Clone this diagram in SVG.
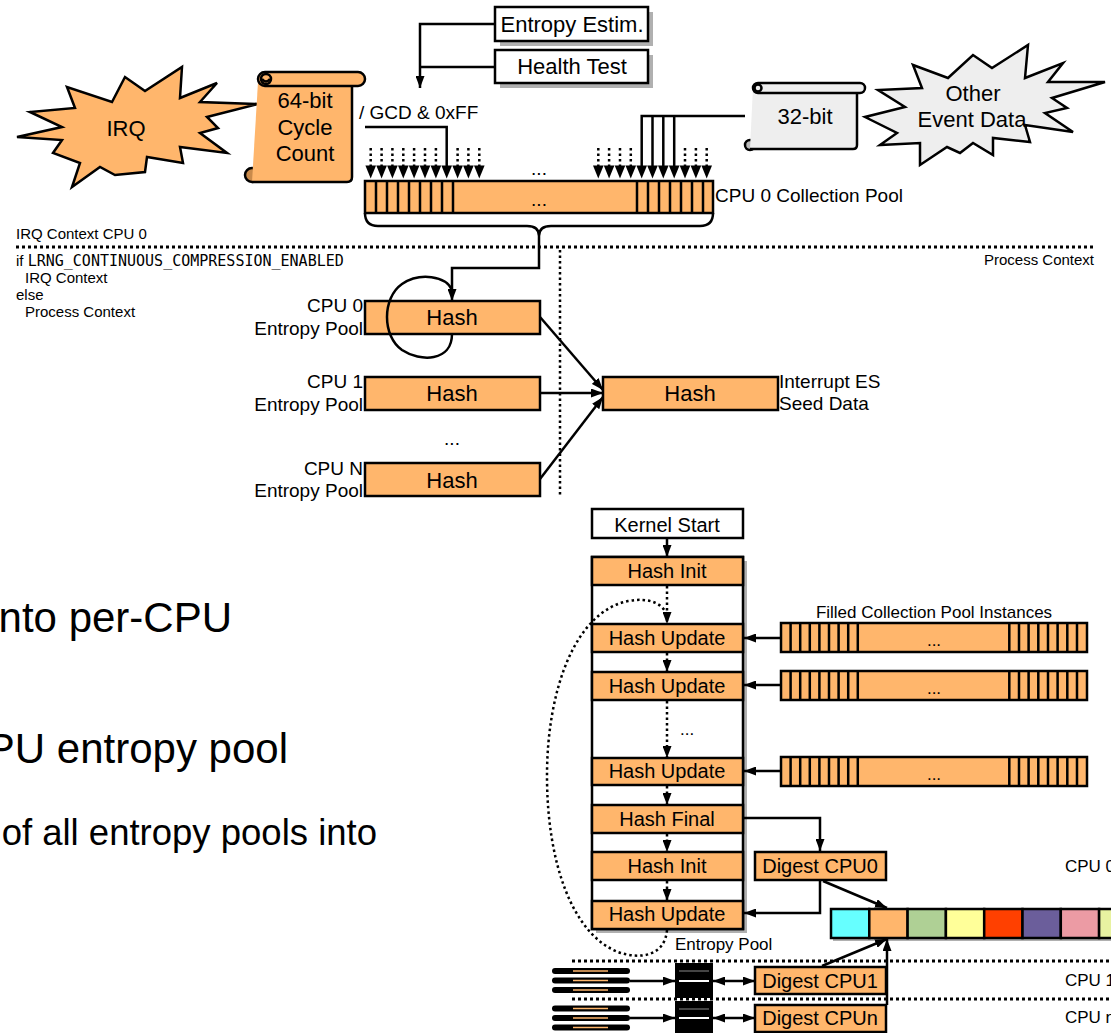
<svg xmlns="http://www.w3.org/2000/svg" xmlns:xlink="http://www.w3.org/1999/xlink" width="1111" height="1033" viewBox="0 0 1111 1033">
<style>
.o{fill:#ffb66c;stroke:#000;stroke-width:2.5}
.w{fill:#fff;stroke:#000;stroke-width:2.5}
.g{fill:#eeeeee;stroke:#000;stroke-width:2.5}
.ln{fill:none;stroke:#000;stroke-width:2.5}
.dot{fill:none;stroke:#000;stroke-width:2.5;stroke-dasharray:2.5 3}
.sh{fill:#b0b0b0;stroke:none}
text{font-family:"Liberation Sans",Arial,sans-serif;fill:#000}
.c{text-anchor:middle}
.e{text-anchor:end}
.f22{font-size:22px}
.f20{font-size:20px}
.f19{font-size:19px}
.f17{font-size:17px}
.f15{font-size:15px}
.mono{font-family:"DejaVu Sans Mono","Liberation Mono",monospace}
</style>
<defs>
<marker id="ah" viewBox="0 0 12 9" refX="12" refY="4.5" markerWidth="12" markerHeight="9" markerUnits="userSpaceOnUse" orient="auto"><path d="M0,0 L12,4.5 L0,9 z" fill="#000"/></marker>
<marker id="ahs" viewBox="0 0 12 9" refX="12" refY="4.5" markerWidth="12" markerHeight="9" markerUnits="userSpaceOnUse" orient="auto-start-reverse"><path d="M0,0 L12,4.5 L0,9 z" fill="#000"/></marker>
<g id="fpool">
<rect x="0" y="0" width="306" height="29" class="o"/>
<path class="ln" d="M9.6 0V29M19.2 0V29M28.8 0V29M38.4 0V29M48 0V29M57.6 0V29M67.2 0V29M76.8 0V29M228.3 0V29M238 0V29M247.6 0V29M257.3 0V29M267 0V29M276.6 0V29M286.3 0V29M296 0V29"/>
<text x="153" y="23" class="c f17">...</text>
</g>
<g id="tri"><path d="M-5.3 0 L5.3 0 L0 13 z" fill="#000"/></g>
<g id="disk">
<rect x="0" y="0" width="78" height="6" rx="3" fill="#000"/>
<line x1="21" y1="3" x2="56" y2="3" stroke="#ffb66c" stroke-width="1.5"/>
</g>
</defs>

<!-- background slide text fragments -->
<g id="slide-text">
<text x="232" y="632" class="e" style="font-size:42px">nto per-CPU</text>
<text x="288" y="763" class="e" style="font-size:42px">PU entropy pool</text>
<text x="377" y="845" class="e" style="font-size:36.5px">of all entropy pools into</text>
</g>

<!-- context labels -->
<g id="context">
<text x="16" y="239" class="f15">IRQ Context CPU 0</text>
<line x1="16" y1="247" x2="1093" y2="247" stroke="#000" stroke-width="3" stroke-dasharray="3 3"/>
<text x="1094" y="265" class="e f15">Process Context</text>
<text x="16" y="266" class="f15">if <tspan class="mono">LRNG_CONTINUOUS_COMPRESSION_ENABLED</tspan></text>
<text x="25" y="283" class="f15">IRQ Context</text>
<text x="16" y="300" class="f15">else</text>
<text x="25" y="317" class="f15">Process Context</text>
<line x1="560" y1="250" x2="560" y2="495" stroke="#000" stroke-width="2.5" stroke-dasharray="2.5 3"/>
</g>

<!-- IRQ star -->
<g id="irq">
<polygon class="o" points="182,67 180,98 217,83 200,102 258,104 207,117 218,128 200,133 227,153 180,147 183,163 147,157 145,172 115,175 100,167 72,187 80,163 53,153 62,140 17,137 62,127 30,112 75,108 67,87 112,102 125,77 145,91"/>
<text x="126" y="136" class="c f22">IRQ</text>
</g>

<!-- 64-bit scroll -->
<g id="cycle-count">
<circle cx="252" cy="175" r="7" fill="#c98a4b" stroke="#000" stroke-width="2.5"/>
<path class="o" d="M258 82 H352 V177 Q352 182 347 182 H252"/>
<rect x="258" y="72" width="107" height="14" rx="7" class="o"/>
<circle cx="266" cy="79" r="5" class="o"/>
<path class="ln" d="M262 79 Q266 84 270 79" stroke-width="1.5"/>
<text x="305" y="108" class="c f22">64-bit</text>
<text x="305" y="135" class="c f22">Cycle</text>
<text x="305" y="161" class="c f22">Count</text>
</g>

<!-- Entropy Estim -->
<g id="entropy-estim">
<rect x="500" y="12" width="153" height="34" class="sh"/>
<rect x="495" y="7" width="153" height="34" class="w"/>
<text x="572" y="32" class="c f22">Entropy Estim.</text>
</g>
<g id="health-test">
<rect x="500" y="55" width="153" height="33" class="sh"/>
<rect x="495" y="50" width="153" height="33" class="w"/>
<text x="572" y="74" class="c f22">Health Test</text>
</g>

<!-- 32-bit scroll -->
<g id="bit32">
<circle cx="750" cy="145" r="5" fill="#bbb" stroke="#000" stroke-width="2.5"/>
<path class="g" d="M753 87 H857 V145 Q857 149 853 149 H750"/>
<rect x="753" y="83" width="112" height="10" rx="5" class="g"/>
<circle cx="758" cy="88" r="3.5" class="g" stroke-width="2"/>
<text x="805" y="124" class="c f22">32-bit</text>
</g>

<!-- Other event data star -->
<g id="other-event">
<polygon class="g" points="1028,45 1025,78 1063,63 1048,82 1105,82 1052,98 1067,108 1045,113 1073,132 1025,125 1030,142 993,138 993,155 973,143 960,153 947,147 920,165 920,143 880,145 897,133 865,117 905,107 878,90 922,88 913,65 948,78 973,55 992,68"/>
<text x="973" y="101" class="c f22">Other</text>
<text x="972" y="127" class="c f22">Event Data</text>
</g>

<!-- CPU 0 collection pool -->
<g id="collection-pool">
<rect x="365" y="181" width="348" height="32" class="o"/>
<path class="ln" d="M376 181V213M387 181V213M398 181V213M409 181V213M420 181V213M431 181V213M442 181V213M453 181V213M637 181V213M648 181V213M659 181V213M670 181V213M681 181V213M692 181V213M703 181V213"/>
<text x="539" y="206" class="c f19">...</text>
<text x="539" y="175" class="c f19">...</text>
<text x="715" y="202" class="f19">CPU 0 Collection Pool</text>
<text x="359" y="119" class="f19">/ GCD &amp; 0xFF</text>
</g>

<!-- Hash nodes -->
<g id="hash-cpu0">
<rect x="365" y="301" width="175" height="33" class="o" stroke-width="3"/>
<text x="452" y="325" class="c f22">Hash</text>
<text x="363" y="312" class="e f19">CPU 0</text>
<text x="363" y="335" class="e f19">Entropy Pool</text>
</g>
<g id="hash-cpu1">
<rect x="365" y="377" width="175" height="33" class="o" stroke-width="3"/>
<text x="452" y="401" class="c f22">Hash</text>
<text x="363" y="388" class="e f19">CPU 1</text>
<text x="363" y="411" class="e f19">Entropy Pool</text>
</g>
<text x="452" y="445" class="c f19">...</text>
<g id="hash-cpun">
<rect x="365" y="463" width="175" height="33" class="o" stroke-width="3"/>
<text x="452" y="488" class="c f22">Hash</text>
<text x="363" y="475" class="e f19">CPU N</text>
<text x="363" y="497" class="e f19">Entropy Pool</text>
</g>
<g id="hash-es">
<rect x="603" y="377" width="175" height="33" class="o" stroke-width="3"/>
<text x="690" y="401" class="c f22">Hash</text>
<text x="779" y="388" class="f19">Interrupt ES</text>
<text x="779" y="410" class="f19">Seed Data</text>
</g>

<!-- Bottom: kernel start + hash chain -->
<g id="kernel-start">
<rect x="592" y="509" width="151" height="29" class="w"/>
<text x="667" y="532" class="c f20">Kernel Start</text>
</g>
<g id="entropy-pool">
<rect x="596" y="561" width="151" height="372" class="sh"/>
<rect x="592" y="557" width="151" height="372" class="w"/>
<rect x="592" y="557" width="151" height="28" class="o"/>
<text x="667" y="578" class="c f20">Hash Init</text>
<rect x="592" y="624" width="151" height="28" class="o"/>
<text x="667" y="645" class="c f20">Hash Update</text>
<rect x="592" y="672" width="151" height="28" class="o"/>
<text x="667" y="693" class="c f20">Hash Update</text>
<rect x="592" y="758" width="151" height="27" class="o"/>
<text x="667" y="778" class="c f20">Hash Update</text>
<rect x="592" y="805" width="151" height="28" class="o"/>
<text x="667" y="826" class="c f20">Hash Final</text>
<rect x="592" y="852" width="151" height="28" class="o"/>
<text x="667" y="873" class="c f20">Hash Init</text>
<rect x="592" y="901" width="151" height="28" class="o"/>
<text x="667" y="921" class="c f20">Hash Update</text>
<text x="680" y="735" class="f17">...</text>
<text x="675" y="950" class="f17">Entropy Pool</text>
</g>

<g id="filled-pools">
<text x="934" y="618" class="c f17">Filled Collection Pool Instances</text>
<use xlink:href="#fpool" x="781" y="623"/>
<use xlink:href="#fpool" x="781" y="671"/>
<use xlink:href="#fpool" x="781" y="757"/>
</g>

<g id="digest-cpu0">
<rect x="755" y="852" width="131" height="28" class="o"/>
<text x="820" y="873" class="c f20">Digest CPU0</text>
<text x="1065" y="872" class="f17">CPU 0</text>
</g>

<g id="aux-pool">
<rect x="833" y="912" width="290" height="29" class="sh"/>
<rect x="831" y="909" width="38.3" height="29" fill="#66ffff" stroke="#000" stroke-width="2.5"/>
<rect x="869.3" y="909" width="38.3" height="29" fill="#ffb66c" stroke="#000" stroke-width="2.5"/>
<rect x="907.6" y="909" width="38.3" height="29" fill="#afd095" stroke="#000" stroke-width="2.5"/>
<rect x="945.9" y="909" width="38.3" height="29" fill="#ffff99" stroke="#000" stroke-width="2.5"/>
<rect x="984.2" y="909" width="38.3" height="29" fill="#ff4000" stroke="#000" stroke-width="2.5"/>
<rect x="1022.5" y="909" width="38.3" height="29" fill="#6b5e9b" stroke="#000" stroke-width="2.5"/>
<rect x="1060.8" y="909" width="38.3" height="29" fill="#ec9ba4" stroke="#000" stroke-width="2.5"/>
<rect x="1099.1" y="909" width="38.3" height="29" fill="#e8f2a1" stroke="#000" stroke-width="2.5"/>
</g>

<g id="cpu-separators">
<line x1="572" y1="961" x2="1111" y2="961" stroke="#000" stroke-width="3" stroke-dasharray="3 3"/>
<line x1="572" y1="999" x2="1111" y2="999" stroke="#000" stroke-width="3" stroke-dasharray="3 3"/>
<text x="1065" y="986" class="f17">CPU 1</text>
<text x="1065" y="1023" class="f17">CPU n</text>
</g>

<g id="cpu1-store">
<use xlink:href="#disk" x="552" y="968"/>
<use xlink:href="#disk" x="552" y="977.5"/>
<use xlink:href="#disk" x="552" y="987"/>
<rect x="675" y="963" width="38" height="35" fill="#000"/>
<line x1="679" y1="971" x2="709" y2="971" stroke="#888" stroke-width="1"/>
<line x1="679" y1="981" x2="709" y2="981" stroke="#fff" stroke-width="2"/>
</g>
<g id="cpun-store">
<use xlink:href="#disk" x="552" y="1005.5"/>
<use xlink:href="#disk" x="552" y="1015"/>
<use xlink:href="#disk" x="552" y="1024.5"/>
<rect x="675" y="1001" width="38" height="34" fill="#000"/>
<line x1="679" y1="1009" x2="709" y2="1009" stroke="#888" stroke-width="1"/>
<line x1="679" y1="1018" x2="709" y2="1018" stroke="#fff" stroke-width="2"/>
</g>

<g id="digest-cpu1">
<rect x="755" y="967" width="131" height="27" class="o"/>
<text x="820" y="988" class="c f20">Digest CPU1</text>
</g>
<g id="digest-cpun">
<rect x="755" y="1005" width="131" height="27" class="o"/>
<text x="820" y="1025" class="c f20">Digest CPUn</text>
</g>

<!-- connectors -->
<g id="connectors">
<!-- entropy estim / health test -->
<polyline class="ln" points="495,24 420,24 420,88" marker-end="url(#ah)"/>
<line class="ln" x1="495" y1="67" x2="420" y2="67"/>
<!-- pool input arrows -->
<path class="dot" d="M370.7 148V166M381.6 148V166M392.4 148V166M403.3 148V166M414.1 148V166M425 148V166M435.9 148V166M457.6 148V166M468.4 148V166M479.3 148V166M598.3 148V166M609.1 148V166M620 148V166M630.8 148V166M685 148V166M695.9 148V166M706.7 148V166"/>
<polyline class="ln" points="365,127 446.7,127 446.7,166"/>
<path class="ln" d="M745 116H641.7V166M652.5 116V166M663.3 116V166M674.2 116V166"/>
<use xlink:href="#tri" x="370.7" y="165.5"/>
<use xlink:href="#tri" x="381.6" y="165.5"/>
<use xlink:href="#tri" x="392.4" y="165.5"/>
<use xlink:href="#tri" x="403.3" y="165.5"/>
<use xlink:href="#tri" x="414.1" y="165.5"/>
<use xlink:href="#tri" x="425" y="165.5"/>
<use xlink:href="#tri" x="435.9" y="165.5"/>
<use xlink:href="#tri" x="446.7" y="165.5"/>
<use xlink:href="#tri" x="457.6" y="165.5"/>
<use xlink:href="#tri" x="468.4" y="165.5"/>
<use xlink:href="#tri" x="479.3" y="165.5"/>
<use xlink:href="#tri" x="598.3" y="165.5"/>
<use xlink:href="#tri" x="609.1" y="165.5"/>
<use xlink:href="#tri" x="620" y="165.5"/>
<use xlink:href="#tri" x="630.8" y="165.5"/>
<use xlink:href="#tri" x="641.7" y="165.5"/>
<use xlink:href="#tri" x="652.5" y="165.5"/>
<use xlink:href="#tri" x="663.3" y="165.5"/>
<use xlink:href="#tri" x="674.2" y="165.5"/>
<use xlink:href="#tri" x="685" y="165.5"/>
<use xlink:href="#tri" x="695.9" y="165.5"/>
<use xlink:href="#tri" x="706.7" y="165.5"/>
<!-- brace and link to CPU0 hash -->
<path class="ln" d="M365 213 Q365 226 378 226 H527 Q539 226 539 236 Q539 226 551 226 H700 Q713 226 713 213"/>
<polyline class="ln" points="539,236 539,268 452,268 452,301" marker-end="url(#ah)"/>
<path class="ln" d="M452 334 C452 362 420 362 402 350 C382 336 382 298 402 284 C420 272 446 276 452 290"/>
<!-- hash to ES hash -->
<line class="ln" x1="540" y1="317" x2="603" y2="390" marker-end="url(#ah)"/>
<line class="ln" x1="540" y1="393" x2="603" y2="393" marker-end="url(#ah)"/>
<line class="ln" x1="540" y1="479" x2="603" y2="397" marker-end="url(#ah)"/>
<!-- kernel start chain -->
<line class="ln" x1="667" y1="538" x2="667" y2="557" marker-end="url(#ah)"/>
<line class="dot" x1="667" y1="586" x2="667" y2="624" marker-end="url(#ah)"/>
<line class="dot" x1="667" y1="653" x2="667" y2="672" marker-end="url(#ah)"/>
<line class="dot" x1="667" y1="701" x2="667" y2="758" marker-end="url(#ah)"/>
<line class="dot" x1="667" y1="786" x2="667" y2="805" marker-end="url(#ah)"/>
<line class="dot" x1="667" y1="834" x2="667" y2="852" marker-end="url(#ah)"/>
<line class="dot" x1="667" y1="881" x2="667" y2="901" marker-end="url(#ah)"/>
<path class="dot" d="M667 930 C665 956 640 960 618 952 C572 934 547 862 547 776 C547 690 575 612 628 601 C650 597 664 604 667 616"/>
<!-- filled pools to hash update -->
<line class="ln" x1="781" y1="638" x2="744" y2="638" marker-end="url(#ah)"/>
<line class="ln" x1="781" y1="685" x2="744" y2="685" marker-end="url(#ah)"/>
<line class="ln" x1="781" y1="771" x2="744" y2="771" marker-end="url(#ah)"/>
<!-- hash final to digest -->
<polyline class="ln" points="743,818 820,818 820,851" marker-end="url(#ah)" stroke-width="2"/>
<polyline class="ln" points="820,881 820,913 744,913" marker-end="url(#ah)" stroke-width="2"/>
<line class="ln" x1="823" y1="881" x2="887" y2="908" marker-end="url(#ah)"/>
<line class="ln" x1="822" y1="966" x2="887" y2="939" marker-end="url(#ah)"/>
<line class="ln" x1="887" y1="1005" x2="887" y2="939" marker-end="url(#ah)"/>
<!-- storage arrows -->
<line class="ln" x1="630" y1="981" x2="675" y2="981" marker-end="url(#ah)" stroke-width="2"/>
<line class="ln" x1="630" y1="1018" x2="675" y2="1018" marker-end="url(#ah)" stroke-width="2"/>
<line class="ln" x1="713" y1="981" x2="755" y2="981" marker-start="url(#ahs)" marker-end="url(#ah)" stroke-width="2"/>
<line class="ln" x1="713" y1="1018" x2="755" y2="1018" marker-start="url(#ahs)" marker-end="url(#ah)" stroke-width="2"/>
</g>
</svg>
